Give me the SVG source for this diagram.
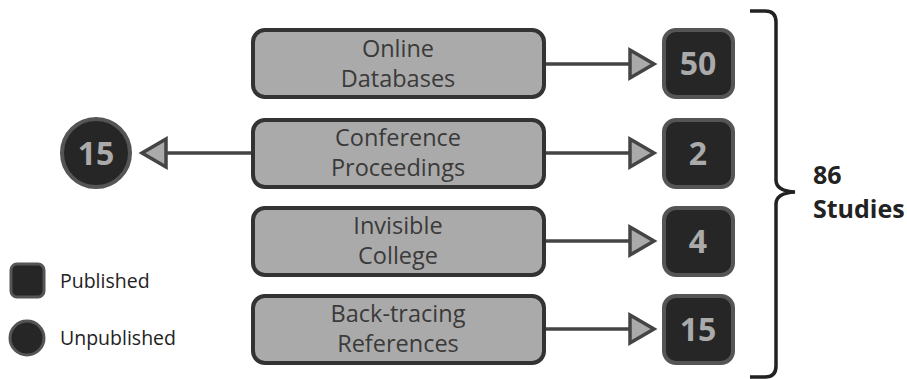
<svg xmlns="http://www.w3.org/2000/svg" width="907" height="379" viewBox="0 0 907 379">
<defs>
<style>
.src rect{fill:#aaaaaa;stroke:#333333;stroke-width:4}
.src text{font-family:"Open Sans","Noto Sans",sans-serif;font-size:23.5px;fill:#3a3a3a;text-anchor:middle}
.num rect,.num circle{fill:#262626;stroke:#555555;stroke-width:4}
.num text{font-family:"Open Sans","Noto Sans",sans-serif;font-size:32px;font-weight:bold;fill:#aaaaaa;text-anchor:middle}
.conn line{stroke:#444444;stroke-width:3.5}
.conn polygon{fill:#aaaaaa;stroke:#444444;stroke-width:3.5;stroke-linejoin:miter}
.leg text{font-family:"Open Sans","Noto Sans",sans-serif;font-size:19.5px;fill:#222222}
.lbl{font-family:"Open Sans","Noto Sans",sans-serif;font-size:25px;font-weight:bold;fill:#222222}
</style>
</defs>
<rect width="907" height="379" fill="#ffffff"/>
<g id="connectors" class="conn">
<line x1="545" y1="64" x2="630" y2="64"/>
<polygon points="630,50 654,64 630,78"/>
<line x1="545" y1="153" x2="630" y2="153"/>
<polygon points="630,139 654,153 630,167"/>
<line x1="545" y1="241" x2="630" y2="241"/>
<polygon points="630,227 654,241 630,255"/>
<line x1="545" y1="329" x2="630" y2="329"/>
<polygon points="630,315 654,329 630,343"/>
<line x1="252" y1="153" x2="166" y2="153"/>
<polygon points="166,139 142,153 166,167"/>
</g>
<g id="online-databases" class="src">
<rect x="253" y="30" width="291" height="67" rx="12"/>
<text x="398" y="57">Online</text>
<text x="398" y="87">Databases</text>
</g>
<g id="conference-proceedings" class="src">
<rect x="253" y="120" width="291" height="67" rx="12"/>
<text x="398" y="146">Conference</text>
<text x="398" y="176">Proceedings</text>
</g>
<g id="invisible-college" class="src">
<rect x="253" y="208" width="291" height="67" rx="12"/>
<text x="398" y="234">Invisible</text>
<text x="398" y="264">College</text>
</g>
<g id="back-tracing-references" class="src">
<rect x="253" y="296" width="291" height="67" rx="12"/>
<text x="398" y="322">Back-tracing</text>
<text x="398" y="352">References</text>
</g>
<g id="n50" class="num">
<rect x="664" y="30" width="69" height="67" rx="12"/>
<text x="698" y="75">50</text>
</g>
<g id="n2" class="num">
<rect x="664" y="120" width="69" height="67" rx="12"/>
<text x="698" y="165">2</text>
</g>
<g id="n4" class="num">
<rect x="664" y="208" width="69" height="67" rx="12"/>
<text x="698" y="253">4</text>
</g>
<g id="n15" class="num">
<rect x="664" y="296" width="69" height="67" rx="12"/>
<text x="698" y="341">15</text>
</g>
<g id="unpub15" class="num">
<circle cx="96" cy="153" r="34"/>
<text x="96" y="165">15</text>
</g>
<g id="legend" class="leg">
<rect x="11" y="264" width="33" height="33" rx="6" fill="#262626" stroke="#555555" stroke-width="3"/>
<text x="60" y="288">Published</text>
<circle cx="27" cy="338" r="17" fill="#262626" stroke="#555555" stroke-width="3"/>
<text x="60" y="345">Unpublished</text>
</g>
<g id="brace">
<path d="M750,11 L765,11 Q776,11 776,22 L776,180 Q776,191 795,192 Q776,193 776,204 L776,366 Q776,377 765,377 L750,377" fill="none" stroke="#222222" stroke-width="3.5"/>
<text class="lbl" x="813" y="184">86</text>
<text class="lbl" x="813" y="218">Studies</text>
</g>
</svg>
